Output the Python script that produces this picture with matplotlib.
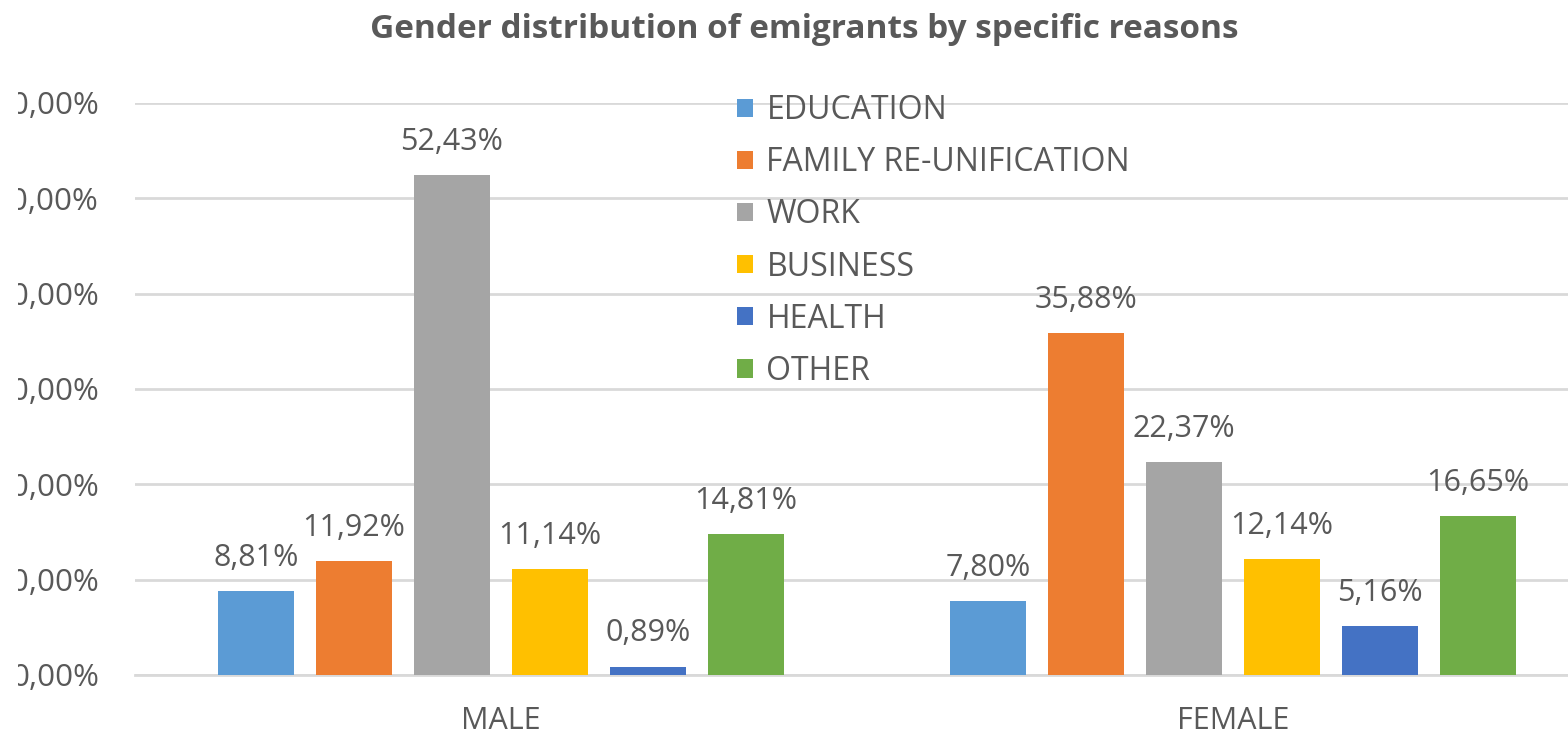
import numpy as np
import matplotlib.pyplot as plt
from matplotlib.patches import Rectangle

# Datos
generos = ['MALE', 'FEMALE']
motivos = ['EDUCATION', 'FAMILY RE-UNIFICATION', 'WORK', 'BUSINESS', 'HEALTH', 'OTHER']
valores_male = [8.81, 11.92, 52.43, 11.14, 0.89, 14.81]
valores_female = [7.80, 35.88, 22.37, 12.14, 5.16, 16.65]
colores = ['#5B9BD5', '#ED7D31', '#A5A5A5', '#FFC000', '#4472C4', '#70AD47']
ticks_y = [0, 10, 20, 30, 40, 50, 60]

gris_texto = '#595959'
fuente = 'Open Sans'

fig = plt.figure(figsize=(15.68, 7.36), dpi=100)
# El area del grafico sigue mas alla del borde derecho (imagen recortada)
ax = fig.add_axes([135 / 1568, 61 / 736, 1464 / 1568, 572 / 736])

x = np.arange(len(generos))
ancho = 0.105
paso = 0.1339

for i, motivo in enumerate(motivos):
    alturas = [valores_male[i], valores_female[i]]
    pos = x + (i - 2.5) * paso
    barras = ax.bar(pos, alturas, ancho, color=colores[i], label=motivo, zorder=3)
    for b, v in zip(barras, alturas):
        ax.annotate(f'{v:.2f}%'.replace('.', ','),
                    (b.get_x() + b.get_width() / 2, b.get_height()),
                    xytext=(0, 13), textcoords='offset points',
                    ha='center', va='bottom', fontsize=22,
                    family=fuente, color=gris_texto)

ax.set_xlim(-0.5, 1.5)
ax.set_ylim(0, 60)
ax.set_yticks(ticks_y)
ax.set_yticklabels([f'{t},00%' for t in ticks_y], family=fuente,
                   fontsize=22.5, color=gris_texto)
ax.set_xticks(x)
ax.set_xticklabels(generos, family=fuente, fontsize=22, color=gris_texto)
ax.tick_params(axis='y', length=0, pad=26)
ax.tick_params(axis='x', length=0, pad=22)

ax.grid(axis='y', color='#D9D9D9', linewidth=2, zorder=0)
for lado in ['top', 'right', 'left']:
    ax.spines[lado].set_visible(False)
ax.spines['bottom'].set_color('#D9D9D9')
ax.spines['bottom'].set_linewidth(2)

fig.text(804 / 1568, 1 - 30 / 736, 'Gender distribution of emigrants by specific reasons',
         ha='center', va='center', family=fuente, fontweight='bold',
         fontsize=24, color=gris_texto)

fig.legend(loc='upper left', bbox_to_anchor=(737 / 1568, 1 - 94 / 736),
           frameon=False, prop={'family': fuente, 'size': 23},
           labelcolor=gris_texto, handlelength=0.5, handleheight=0.5,
           handletextpad=0.42, labelspacing=0.6, borderpad=0, borderaxespad=0)

# la imagen original esta recortada por la izquierda (etiquetas del eje Y cortadas)
fig.add_artist(Rectangle((0, 0), 18 / 1568, 1, transform=fig.transFigure,
                         facecolor='white', edgecolor='none', zorder=10))

fig.savefig('out.png', dpi=100)
